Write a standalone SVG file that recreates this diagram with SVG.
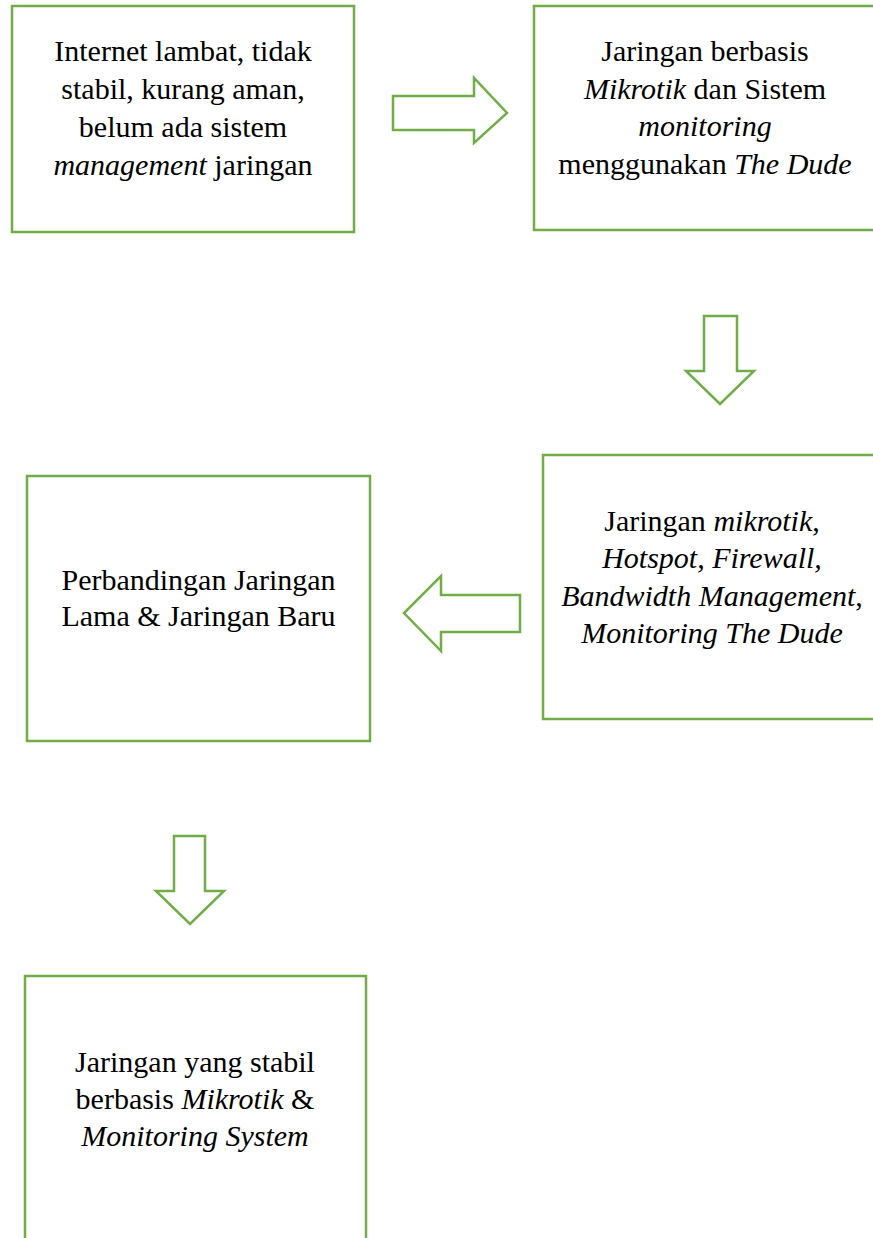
<svg xmlns="http://www.w3.org/2000/svg" width="873" height="1238" viewBox="0 0 873 1238">
<style>
.box{fill:#fff;stroke:#70AD47;stroke-width:2.5}
.arr{fill:#fff;stroke:#70AD47;stroke-width:2.5;stroke-linejoin:miter}
text{font-family:"Liberation Serif","Times New Roman",serif;font-size:30px;fill:#000;text-anchor:middle}
.i{font-style:italic}
</style>
<rect width="873" height="1238" fill="#fff"/>
<g id="connectors">
<polygon class="arr" points="393,96 474,96 474,78 507,113 474,143 474,130 393,130"/>
<polygon class="arr" points="704,316 737,316 737,371 754,371 720,404 686,371 704,371"/>
<polygon class="arr" points="520,595 441,595 441,576 404,613 441,651 441,632 520,632"/>
<polygon class="arr" points="174,836 205,836 205,891 224,891 190,924 156,891 174,891"/>
</g>
<g id="node1">
<rect class="box" x="12" y="6" width="342" height="226"/>
<text x="183" y="61">Internet lambat, tidak</text>
<text x="183" y="99">stabil, kurang aman,</text>
<text x="183" y="137">belum ada sistem</text>
<text x="183" y="175"><tspan class="i">management</tspan> jaringan</text>
</g>
<g id="node2">
<rect class="box" x="534" y="6" width="343" height="224"/>
<text x="705" y="61">Jaringan berbasis</text>
<text x="705" y="99"><tspan class="i">Mikrotik</tspan> dan Sistem</text>
<text x="705" y="136" class="i">monitoring</text>
<text x="705" y="174">menggunakan <tspan class="i">The Dude</tspan></text>
</g>
<g id="node3">
<rect class="box" x="543" y="455" width="339" height="264"/>
<text x="712" y="531">Jaringan <tspan class="i">mikrotik</tspan>,</text>
<text x="712" y="568" class="i">Hotspot, Firewall,</text>
<text x="712" y="606"><tspan class="i">Bandwidth Management</tspan>,</text>
<text x="712" y="643" class="i">Monitoring The Dude</text>
</g>
<g id="node4">
<rect class="box" x="27" y="476" width="343" height="265"/>
<text x="198.5" y="590">Perbandingan Jaringan</text>
<text x="198.5" y="626">Lama &amp; Jaringan Baru</text>
</g>
<g id="node5">
<rect class="box" x="25" y="976" width="341" height="290"/>
<text x="195" y="1072">Jaringan yang stabil</text>
<text x="195" y="1109">berbasis <tspan class="i">Mikrotik</tspan> &amp;</text>
<text x="195" y="1146" class="i">Monitoring System</text>
</g>
</svg>
